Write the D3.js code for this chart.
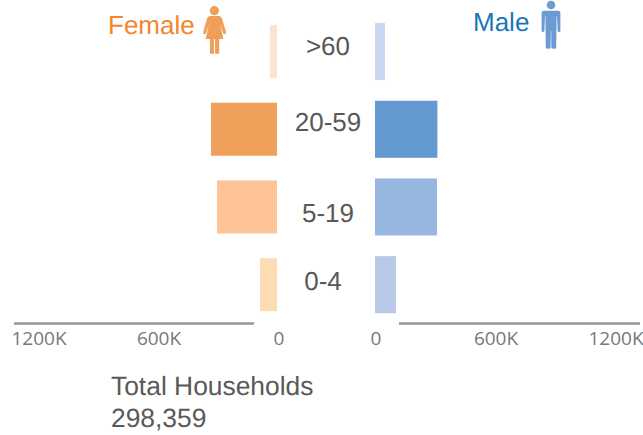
<!DOCTYPE html>
<html>
<head>
<meta charset="utf-8">
<script src="https://cdn.jsdelivr.net/npm/d3@7"></script>
<style>
  html, body { margin: 0; padding: 0; background: #fff; overflow: hidden; }
  .tick text { font-family: "Open Sans", sans-serif; font-size: 19px; fill: #77787b; }
  .lbl { font-family: "Liberation Sans", Arial, sans-serif; font-size: 26px; text-rendering: geometricPrecision; }
  .total { font-size: 26.4px; }
</style>
</head>
<body>
<div class="pyramid"></div>
<script>
// data
const ageGroups = [">60", "20-59", "5-19", "0-4"];
const femaleValues = [35000, 330000, 300000, 85000];
const maleValues = [50000, 312000, 310000, 105000];
const tickValues = [0, 600000, 1200000];
const tickLabels = ["0", "600K", "1200K"];
const femaleColors = ["#fde3d0", "#ee9f59", "#fec498", "#fddcb5"];
const maleColors = ["#c9d8ef", "#6599d1", "#97b6e0", "#b8c8e6"];
const totalLines = ["Total Households", "298,359"];

const Width = 643, Height = 435;
const axisY = 323.5;
const maxValue = 1500000;

const svg = d3.select(".pyramid").append("svg")
    .attr("width", Width)
    .attr("height", Height)
    .style("display", "block");

// the two sides run away from the middle
const xFemale = d3.scaleLinear().domain([0, maxValue]).range([277, -23]);
const xMale = d3.scaleLinear().domain([0, maxValue]).range([375, 675]);

// same rows, female bars are a bit thinner than the male ones
const yFemale = d3.scaleBand().domain(ageGroups).range([12.7, 323.5]).paddingInner(0.318).paddingOuter(0.159);
const yMale = d3.scaleBand().domain(ageGroups).range([12.7, 323.5]).paddingInner(0.266).paddingOuter(0.133);

// female bars
svg.append("g").selectAll("rect")
    .data(ageGroups)
    .join("rect")
    .attr("x", (d, i) => xFemale(femaleValues[i]))
    .attr("y", d => yFemale(d))
    .attr("width", (d, i) => xFemale(0) - xFemale(femaleValues[i]))
    .attr("height", yFemale.bandwidth())
    .attr("fill", (d, i) => femaleColors[i]);

// male bars
svg.append("g").selectAll("rect")
    .data(ageGroups)
    .join("rect")
    .attr("x", xMale(0))
    .attr("y", d => yMale(d))
    .attr("width", (d, i) => xMale(maleValues[i]) - xMale(0))
    .attr("height", yMale.bandwidth())
    .attr("fill", (d, i) => maleColors[i]);

// age labels sit a little off the row centre in the original
const labelNudgeY = [-6, -7, 6, -4];
const labelNudgeX = [0, 0, 0, -5];
svg.append("g").selectAll("text")
    .data(ageGroups)
    .join("text")
    .attr("class", "lbl")
    .attr("x", (d, i) => 328 + labelNudgeX[i])
    .attr("y", (d, i) => yMale(d) + yMale.bandwidth() / 2 + labelNudgeY[i])
    .attr("dy", ".35em")
    .attr("text-anchor", "middle")
    .attr("fill", "#595959")
    .text(d => d);

// axes, only the labels come from d3.axis
const makeAxis = (scale) => d3.axisBottom(scale)
    .tickValues(tickValues)
    .tickSize(0)
    .tickPadding(0)
    .tickFormat((d, i) => tickLabels[i]);

const femaleAxis = svg.append("g")
    .attr("transform", "translate(1.5," + (axisY + 8) + ")")
    .call(makeAxis(xFemale));
femaleAxis.select(".domain").remove();

const maleAxis = svg.append("g")
    .attr("transform", "translate(0.5," + (axisY + 8) + ")")
    .call(makeAxis(xMale));
maleAxis.select(".domain").remove();

// grey rules do not reach the zero, they stop short of the bars
svg.append("line")
    .attr("x1", xFemale(1315000)).attr("x2", xFemale(115000))
    .attr("y1", axisY).attr("y2", axisY)
    .attr("stroke", "#939598").attr("stroke-width", 2.5);
svg.append("line")
    .attr("x1", xMale(120000)).attr("x2", xMale(1325000))
    .attr("y1", axisY).attr("y2", axisY)
    .attr("stroke", "#939598").attr("stroke-width", 2.5);

// legend titles
svg.append("text").attr("class", "lbl")
    .attr("x", 108).attr("y", 34)
    .attr("fill", "#f5852b")
    .text("Female");
svg.append("text").attr("class", "lbl")
    .attr("x", 473).attr("y", 31)
    .attr("fill", "#1a76bb")
    .text("Male");

// female icon
const womanIcon = svg.append("g").attr("fill", "#ee9f59");
womanIcon.append("circle").attr("cx", 214.4).attr("cy", 10.7).attr("r", 4.6);
womanIcon.append("path")
    .attr("d", "M210 16 L219 16 Q221 16 222 18.5 L226 32 Q226.3 34 224.8 34.3 Q223.6 34.4 223 33 L220 24 L223.4 39 L219.2 39 L219.2 53.7 L215 53.7 L215 39 L214 39 L214 53.7 L210 53.7 L210 39 L205.6 39 L209 24 L206 33 Q205.4 34.4 204 34.3 Q202.8 34 203.2 32 L207 18.5 Q208 16 210 16 Z");

// male icon
const manIcon = svg.append("g").attr("fill", "#6b9bd2");
manIcon.append("circle").attr("cx", 551).attr("cy", 5).attr("r", 4.3);
manIcon.append("path")
    .attr("d", "M544 10.7 L558 10.7 Q560.4 10.7 560.4 13 L560.4 31 Q560.4 32 559 32 Q557.6 32 557.6 31 L557 16 L556.6 16 L556.2 48 Q556 48.8 553.6 48.8 Q551.6 48.8 551.4 48 L551.2 31 L550.8 31 L550.6 48 Q550.4 48.8 548.4 48.8 Q546 48.8 545.8 48 L545.4 16 L545 16 L544.4 31 Q544.4 32 543 32 Q541.6 32 541.6 31 L541.6 13 Q541.6 10.7 544 10.7 Z");

// total under the chart
svg.append("g").selectAll("text")
    .data(totalLines)
    .join("text")
    .attr("class", "lbl total")
    .attr("x", 111)
    .attr("y", (d, i) => 395 + i * 32)
    .attr("fill", "#595959")
    .text(d => d);
</script>
</body>
</html>
